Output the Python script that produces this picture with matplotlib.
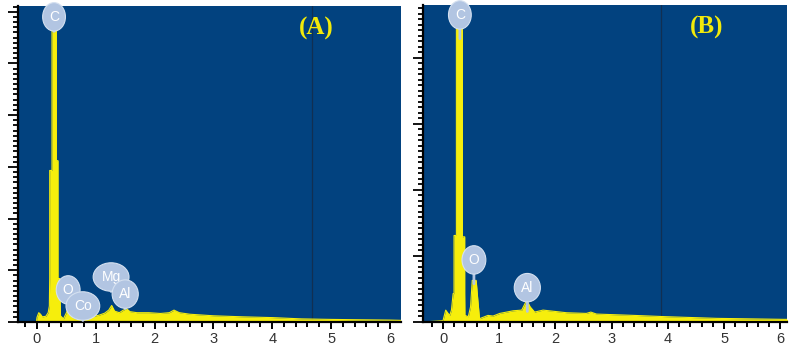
import matplotlib
matplotlib.use("Agg")
import matplotlib.pyplot as plt
from matplotlib.ticker import MultipleLocator

# ---------------- data ----------------
energy_a = [-0.32, -0.01, 0.00, 0.03, 0.06, 0.09, 0.15, 0.19, 0.21, 0.216, 0.216, 0.255, 0.255,
            0.329, 0.329, 0.357, 0.357, 0.386, 0.40, 0.45, 0.50, 0.54, 0.58, 0.63, 0.72, 0.77,
            0.82, 0.95, 1.05, 1.15, 1.22, 1.27, 1.32, 1.40, 1.47, 1.52, 1.58, 1.70, 1.90, 2.10,
            2.25, 2.33, 2.42, 2.60, 3.00, 3.50, 4.00, 4.50, 5.00, 5.50, 6.00, 6.25]
counts_a = [0.0, 0.0, 0.09, 0.18, 0.15, 0.10, 0.11, 0.18, 0.31, 0.84, 2.93, 2.93, 5.68,
            5.68, 3.12, 3.12, 0.84, 0.84, 0.12, 0.06, 0.18, 0.29, 0.12, 0.05, 0.055, 0.07,
            0.09, 0.11, 0.13, 0.17, 0.23, 0.32, 0.21, 0.18, 0.23, 0.26, 0.20, 0.18, 0.18, 0.165,
            0.18, 0.23, 0.18, 0.15, 0.12, 0.10, 0.085, 0.06, 0.05, 0.043, 0.037, 0.03]

energy_b = [-0.36, 0.00, 0.048, 0.09, 0.12, 0.15, 0.18, 0.196, 0.196, 0.238, 0.238, 0.345,
            0.345, 0.386, 0.386, 0.39, 0.45, 0.49, 0.52, 0.59, 0.62, 0.65, 0.74, 0.80, 0.89,
            1.01, 1.25, 1.40, 1.49, 1.55, 1.63, 1.78, 2.20, 2.55, 2.63, 2.73, 3.39, 3.98, 4.87,
            6.06, 6.15]
counts_b = [0.0, 0.02, 0.18, 0.13, 0.10, 0.18, 0.43, 0.43, 1.31, 1.31, 4.49, 4.49,
            1.29, 1.29, 0.43, 0.10, 0.08, 0.23, 0.63, 0.63, 0.33, 0.05, 0.08, 0.10, 0.09,
            0.13, 0.17, 0.18, 0.33, 0.23, 0.15, 0.18, 0.14, 0.13, 0.15, 0.12, 0.10, 0.08, 0.055,
            0.04, 0.04]

labels_a = ["C", "O", "Co", "Mg", "Al"]
label_x_a = [0.29, 0.53, 0.78, 1.26, 1.50]
label_y_a = [5.90, 0.62, 0.31, 0.87, 0.54]

labels_b = ["C", "O", "Al"]
label_x_b = [0.30, 0.55, 1.50]
label_y_b = [4.65, 0.94, 0.52]

cursor_a = 4.68
cursor_b = 3.88
xticks = [0, 1, 2, 3, 4, 5, 6]

# ---------------- style ----------------
BG = "#02427F"
YEL = "#F6EE0C"
BUB = "#B2C5E2"

fig = plt.figure(figsize=(7.89, 3.49), dpi=100)
fig.patch.set_facecolor("white")

W, H = 789.0, 349.0
ax_a = fig.add_axes([18 / W, (349 - 322) / H, 383 / W, 316 / H])
ax_b = fig.add_axes([423 / W, (349 - 322) / H, 364 / W, 317 / H])


def style(ax, xlim, ylim, ymajor, yminor):
    ax.set_facecolor(BG)
    ax.set_xlim(*xlim)
    ax.set_ylim(*ylim)
    for s in ("top", "right"):
        ax.spines[s].set_visible(False)
    for s in ("left", "bottom"):
        ax.spines[s].set_color("black")
        ax.spines[s].set_linewidth(1.6)
    ax.set_xticks(xticks)
    ax.set_xticklabels([str(t) for t in xticks], fontsize=10.5, color="#333333",
                       family="Liberation Sans")
    ax.xaxis.set_minor_locator(MultipleLocator(0.2))
    ax.yaxis.set_major_locator(MultipleLocator(ymajor))
    ax.yaxis.set_minor_locator(MultipleLocator(yminor))
    ax.set_yticklabels([])
    ax.tick_params(axis="x", which="major", direction="out", length=5, width=1.4,
                   color="black", pad=2.5)
    ax.tick_params(axis="x", which="minor", direction="out", length=3.5, width=1.4,
                   color="black")
    ax.tick_params(axis="y", which="major", direction="out", length=7, width=1.3,
                   color="black", labelleft=False)
    ax.tick_params(axis="y", which="minor", direction="out", length=3.5, width=1.3,
                   color="black")


style(ax_a, (-0.323, 6.19), (0, 6.11), 1.0, 0.1)
style(ax_b, (-0.356, 6.12), (0, 4.80), 1.0, 1.0 / 12)

for ax, e, c, cur in ((ax_a, energy_a, counts_a, cursor_a), (ax_b, energy_b, counts_b, cursor_b)):
    ax.fill_between(e, 0, c, color=YEL, lw=0, zorder=2)
    ax.plot(e, c, color=YEL, lw=0.8, zorder=2)
    ax.axvline(cur, color="#112F52", lw=0.9, zorder=1)


def bubbles(ax, labels, xs, ys):
    for t, x, y in zip(labels, xs, ys):
        ax.annotate(t, xy=(x, y - 0.28 if ax is ax_a else y - 0.36), xytext=(x, y),
                    ha="center", va="center", fontsize=10, color="white",
                    family="Liberation Sans", zorder=5,
                    bbox=dict(boxstyle="ellipse,pad=0.22", fc=BUB, ec="#D4E0F0", lw=0.8),
                    arrowprops=dict(arrowstyle="-", color=BUB, lw=2.0, shrinkA=0, shrinkB=0))


bubbles(ax_a, labels_a, label_x_a, label_y_a)
bubbles(ax_b, labels_b, label_x_b, label_y_b)

for ax, t in ((ax_a, "(A)"), (ax_b, "(B)")):
    ax.text(0.78, 0.93, t, transform=ax.transAxes, ha="center", va="center",
            fontsize=18, fontweight="bold", color="#F2EA0A", family="Liberation Serif",
            zorder=6)

fig.savefig("out.png", dpi=100, facecolor="white")
